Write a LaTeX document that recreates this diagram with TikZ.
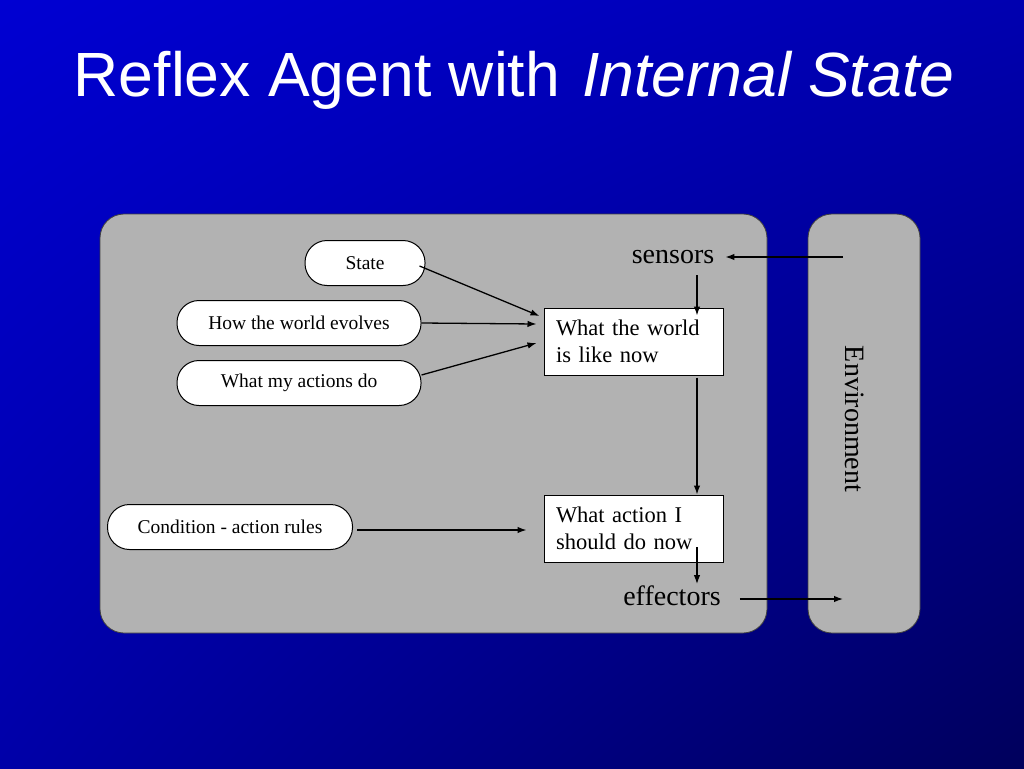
\documentclass[tikz,border=0pt]{standalone}
\usepackage{fontspec}
\setmainfont{Liberation Serif}
\newfontfamily\titlefont{Liberation Sans}
\usetikzlibrary{arrows.meta,shadings}
\definecolor{bgUL}{RGB}{0,0,210}
\definecolor{bgUR}{RGB}{0,0,176}
\definecolor{bgLL}{RGB}{0,0,168}
\definecolor{bgLR}{RGB}{0,0,92}
\definecolor{panelgray}{RGB}{178,178,178}
\tikzset{
  panel/.style={fill=panelgray, draw=black!75, line width=0.8pt, rounded corners=24pt},
  pill/.style={draw=black, fill=white, line width=1pt, rounded corners=22pt,
    minimum height=45pt, inner sep=0pt, font=\fontsize{19.5}{22}\selectfont},
  infobox/.style={draw=black, fill=white, line width=1pt, minimum width=179pt,
    minimum height=67pt, text width=155pt, inner xsep=12pt, inner ysep=0pt, align=left,
    font=\fontsize{22.5}{27}\selectfont},
  lbl/.style={inner sep=0pt, font=\fontsize{28}{32}\selectfont},
  arr/.style={line width=1.3pt, -{Latex[length=9pt,width=6.5pt]}}
}
\begin{document}
\begin{tikzpicture}[x=1pt,y=-1pt]
\useasboundingbox (0,0) rectangle (1024,768);
\shade[upper left=bgUL, upper right=bgUR, lower left=bgLL, lower right=bgLR]
  (0pt,0pt) rectangle (1024pt,-768pt);
% title
\node[font=\titlefont\fontsize{62.5}{70}\selectfont, text=white, anchor=base, inner sep=0pt]
  (title) at (514,96) {Reflex Agent with\hspace{5pt} \textit{Internal State}};
% panels
\draw[panel] (100,214) rectangle (767,633);
\draw[panel] (808,214) rectangle (920,633);
% nodes
\node[pill, minimum width=120pt] (state) at (365,263) {State};
\node[pill, minimum width=244pt] (evolve) at (299,323) {How the world evolves};
\node[pill, minimum width=244pt] (myact) at (299,383) {What my actions do};
\node[pill, minimum width=245pt] (cond) at (230,527) {Condition - action rules};
\node[infobox] (world) at (633.5,341.5) {What the world\\is like now};
\node[infobox] (action) at (633.5,528.5) {What action I\\should do now};
\node[lbl, anchor=base] (sensors) at (673,263) {sensors};
\node[lbl, anchor=base] (effectors) at (672,605) {effectors};
\node[lbl, rotate=-90] (env) at (855,419) {Environment};
\coordinate (col) at (697,0);
\coordinate (envS) at (843,257);
\coordinate (envE) at (843,599);
% connectors
\draw[arr] ([xshift=-6pt,yshift=-3pt]state.east) -- ([xshift=-4pt,yshift=25.5pt]world.west);
\draw[arr] (evolve.east) -- ([xshift=-7pt,yshift=17.5pt]world.west);
\draw[arr] ([yshift=8pt]myact.east) -- ([xshift=-7pt,yshift=-1.5pt]world.west);
\draw[arr] ([xshift=4pt,yshift=-3pt]cond.east) -- ([xshift=-17pt,yshift=-1.5pt]action.west);
\draw[arr] (envS) -- ([xshift=11pt]sensors.east |- envS);
\draw[arr] ([yshift=-12pt]sensors.south -| col) -- ([yshift=-8pt]world.north -| col);
\draw[arr] ([yshift=-2pt]world.south -| col) -- (action.north -| col);
\draw[arr] ([yshift=-18.5pt]action.center -| col) -- ([yshift=1pt]effectors.north -| col);
\draw[arr] ([xshift=19pt]effectors.east |- envE) -- (envE);
\end{tikzpicture}
\end{document}
